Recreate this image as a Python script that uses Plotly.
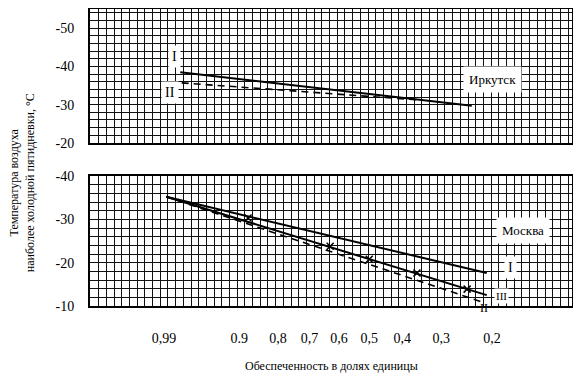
import numpy as np
import plotly.graph_objects as go

# ---- data ----
x_tick_p = [0.99, 0.9, 0.8, 0.7, 0.6, 0.5, 0.4, 0.3, 0.2]
x_tick_text = ["0,99", "0.9", "0,8", "0,7", "0,6", "0,5", "0,4", "0,3", "0,2"]

irk_tick_vals = [-50, -40, -30, -20]
msk_tick_vals = [-40, -30, -20, -10]

# Irkutsk
irk_I_p = [0.981, 0.236]
irk_I_t = [-38.5, -29.7]
irk_II_p = [0.980, 0.352]
irk_II_t = [-35.7, -31.2]

# Moscow
msk_I_p = [0.989, 0.209]
msk_I_t = [-35.2, -17.6]
msk_III_p = [0.989, 0.209]
msk_III_t = [-35.2, -12.5]
msk_II_p = [0.989, 0.212]
msk_II_t = [-35.2, -10.7]
msk_III_mark_p = [0.88, 0.63, 0.50, 0.36, 0.245]
msk_III_mark_t = [-30.3, -23.8, -20.8, -17.6, -13.9]


def gu(p):
    """Gumbel probability-paper abscissa for exceedance probability p."""
    p = np.asarray(p, dtype=float)
    return -np.log(-np.log(1.0 - p))


FONT = "Liberation Serif"
GRID = "#111111"
fig = go.Figure()

line_solid = dict(color="black", width=2)
line_dash = dict(color="black", width=1.6, dash="7px,5px")

fig.add_trace(go.Scatter(x=gu(irk_I_p), y=irk_I_t, mode="lines", line=line_solid,
                         xaxis="x", yaxis="y", showlegend=False))
fig.add_trace(go.Scatter(x=gu(irk_II_p), y=irk_II_t, mode="lines", line=line_dash,
                         xaxis="x", yaxis="y", showlegend=False))

fig.add_trace(go.Scatter(x=gu(msk_I_p), y=msk_I_t, mode="lines", line=line_solid,
                         xaxis="x2", yaxis="y2", showlegend=False))
fig.add_trace(go.Scatter(x=gu(msk_III_p), y=msk_III_t, mode="lines", line=line_solid,
                         xaxis="x2", yaxis="y2", showlegend=False))
fig.add_trace(go.Scatter(x=gu(msk_II_p), y=msk_II_t, mode="lines", line=line_dash,
                         xaxis="x2", yaxis="y2", showlegend=False))
fig.add_trace(go.Scatter(x=gu(msk_III_mark_p), y=msk_III_mark_t, mode="markers",
                         marker=dict(symbol="x-thin", size=7, line=dict(color="black", width=1.5)),
                         xaxis="x2", yaxis="y2", showlegend=False))

x_range = [-2.21, 2.237]
grid_minor_x = dict(tickmode="linear", tick0=0, dtick=0.071, showgrid=True,
                    gridcolor=GRID, gridwidth=1.4, ticks="")
common_x = dict(range=x_range, showline=True, mirror=True, linecolor="black", linewidth=2,
                showgrid=False, zeroline=False, minor=grid_minor_x, automargin=False)
common_y = dict(showline=True, mirror=True, linecolor="black", linewidth=2, zeroline=False,
                showgrid=True, gridcolor=GRID, gridwidth=1.4, ticks="", automargin=False,
                ticklabelstandoff=11, tickfont=dict(family=FONT, size=14),
                minor=dict(tickmode="linear", tick0=0, dtick=2, showgrid=True,
                           gridcolor=GRID, gridwidth=1.4, ticks=""))

fig.update_layout(
    width=581, height=377,
    autosize=False,
    # the page body adds an 8px offset; margins compensate so the plot sits where the reference does
    margin=dict(l=82, r=17, t=1, b=79, autoexpand=False),
    paper_bgcolor="white", plot_bgcolor="white",
    font=dict(family=FONT, color="black", size=13),
    xaxis=dict(domain=[0, 1], anchor="y", showticklabels=False, ticks="",
               tickmode="array", tickvals=gu(x_tick_p), **common_x),
    xaxis2=dict(domain=[0, 1], anchor="y2", matches="x", tickmode="array",
                tickvals=gu(x_tick_p), ticktext=x_tick_text, ticks="",
                ticklabelstandoff=18, tickfont=dict(family=FONT, size=14), **common_x),
    yaxis=dict(domain=[0.549, 1], anchor="x", range=[-20, -55], tickmode="array",
               tickvals=irk_tick_vals, ticktext=[str(v) for v in irk_tick_vals], **common_y),
    yaxis2=dict(domain=[0, 0.4377], anchor="x2", range=[-10, -40], tickmode="array",
                tickvals=msk_tick_vals, ticktext=[str(v) for v in msk_tick_vals], **common_y),
)

box = dict(bgcolor="white", borderpad=3, showarrow=False, font=dict(family=FONT, size=14, color="black"))
fig.add_annotation(x=-1.426, y=-42.5, xref="x", yref="y", text="I", **box)
fig.add_annotation(x=-1.472, y=-33.1, xref="x", yref="y", text="II", **box)
fig.add_annotation(x=1.508, y=-36.7, xref="x", yref="y", text="Иркутск",
                   bgcolor="white", borderpad=5, showarrow=False,
                   font=dict(family=FONT, size=13, color="black"))

fig.add_annotation(x=1.785, y=-27.5, xref="x2", yref="y2", text="Москва",
                   bgcolor="white", borderpad=5, showarrow=False,
                   font=dict(family=FONT, size=13, color="black"))
fig.add_annotation(x=1.674, y=-19.0, xref="x2", yref="y2", text="I", **box)
fig.add_annotation(x=1.582, y=-12.3, xref="x2", yref="y2", text="III",
                   bgcolor="white", borderpad=1, showarrow=False,
                   font=dict(family=FONT, size=11, color="black"))
fig.add_annotation(x=0.830, y=-0.037, xref="paper", yref="paper", text="II",
                   showarrow=False, font=dict(family=FONT, size=12, color="black"))

fig.add_annotation(x=-0.176, y=0.414, xref="paper", yref="paper",
                   text="Температура воздуха<br>наиболее холодной пятидневки, °С",
                   textangle=-90, showarrow=False,
                   font=dict(family=FONT, size=12, color="black"))
fig.add_annotation(x=0.5, y=-0.232, xref="paper", yref="paper",
                   text="Обеспеченность в долях единицы", showarrow=False,
                   font=dict(family=FONT, size=12, color="black"))

fig.write_html("out.html")
